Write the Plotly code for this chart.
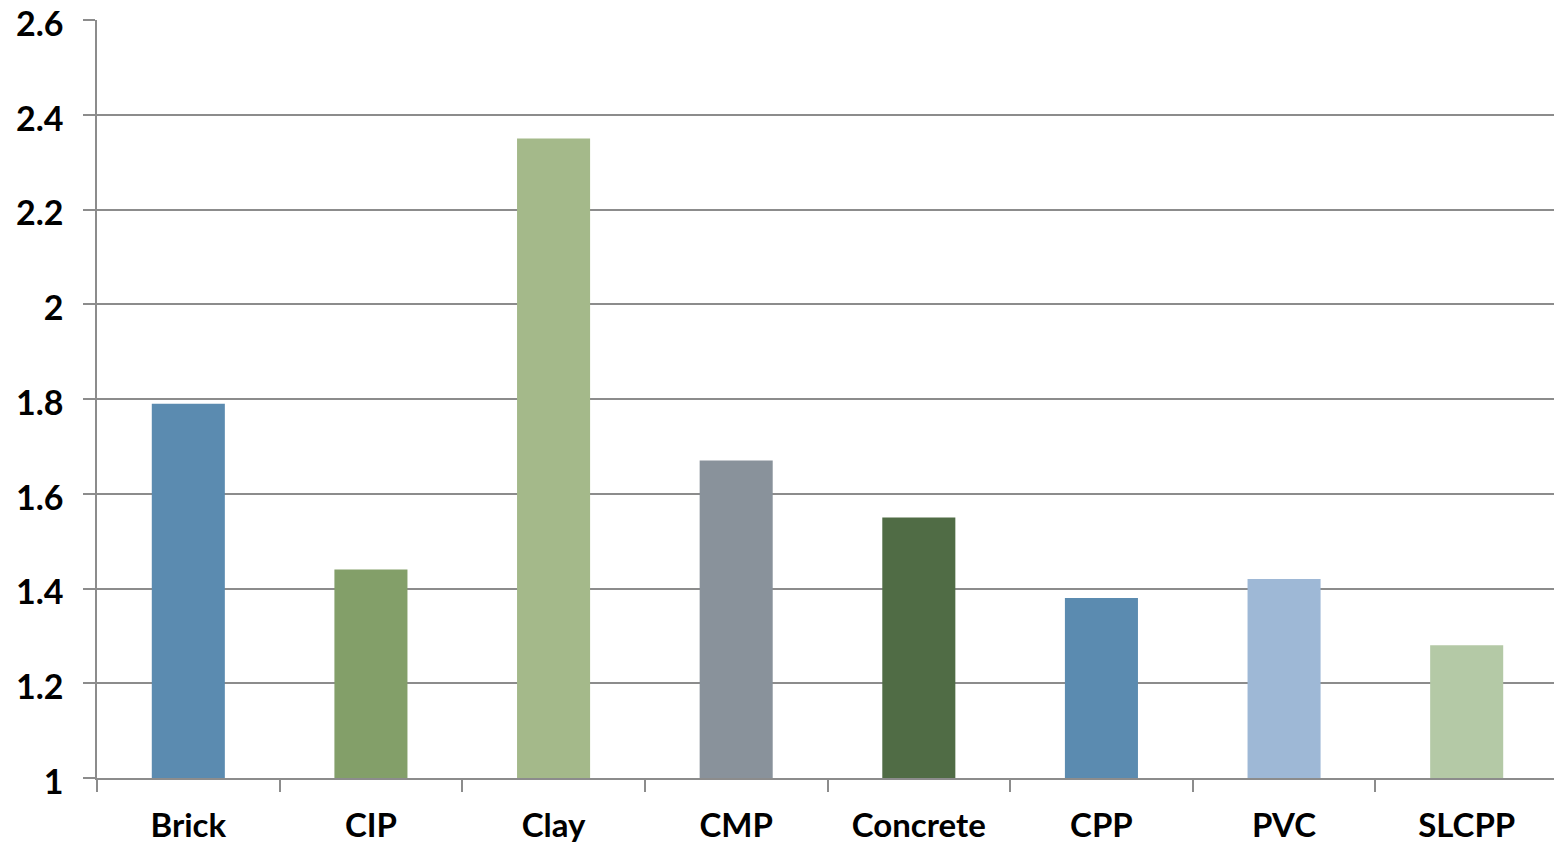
import plotly.graph_objects as go

categories = ["Brick", "CIP", "Clay", "CMP", "Concrete", "CPP", "PVC", "SLCPP"]
values = [1.79, 1.44, 2.35, 1.67, 1.55, 1.38, 1.42, 1.28]
colors = ["#5B8BB0", "#839F69", "#A4B98A", "#89929B", "#506C45", "#5B8BB0", "#9EB8D6", "#B4C9A6"]

font_family = "Lato, 'Open Sans', sans-serif"
grid = "#8C8C8C"

fig = go.Figure(go.Bar(x=categories, y=values, marker=dict(color=colors, line=dict(width=0))))

# page body has an 8px default margin; size the figure to the visible area
fig.update_layout(
    width=1554, height=838,
    margin=dict(l=89, r=4, t=12, b=68, autoexpand=False),
    paper_bgcolor="white", plot_bgcolor="white",
    bargap=0.6, showlegend=False,
    font=dict(family=font_family, size=33, color="black"),
)
fig.update_xaxes(
    showline=True, linecolor=grid, linewidth=1.5,
    ticks="outside", ticklen=12, tickcolor=grid, tickwidth=1.5,
    tickson="boundaries", showgrid=False, automargin=False,
    ticklabelstandoff=18, ticklabeloverflow="allow",
    tickfont=dict(family=font_family, size=33, color="black", weight="bold"),
)
fig.update_yaxes(
    range=[1, 2.6], dtick=0.2, tick0=1,
    showline=True, linecolor=grid, linewidth=1.5,
    showgrid=True, gridcolor=grid, gridwidth=1.5,
    ticks="outside", ticklen=12, tickcolor=grid, tickwidth=1.5,
    ticklabelstandoff=13, ticklabeloverflow="allow", ticklabelshift=4,
    zeroline=False, automargin=False,
    tickfont=dict(family=font_family, size=34, color="black", weight="bold"),
)

fig.write_html("out.html")
